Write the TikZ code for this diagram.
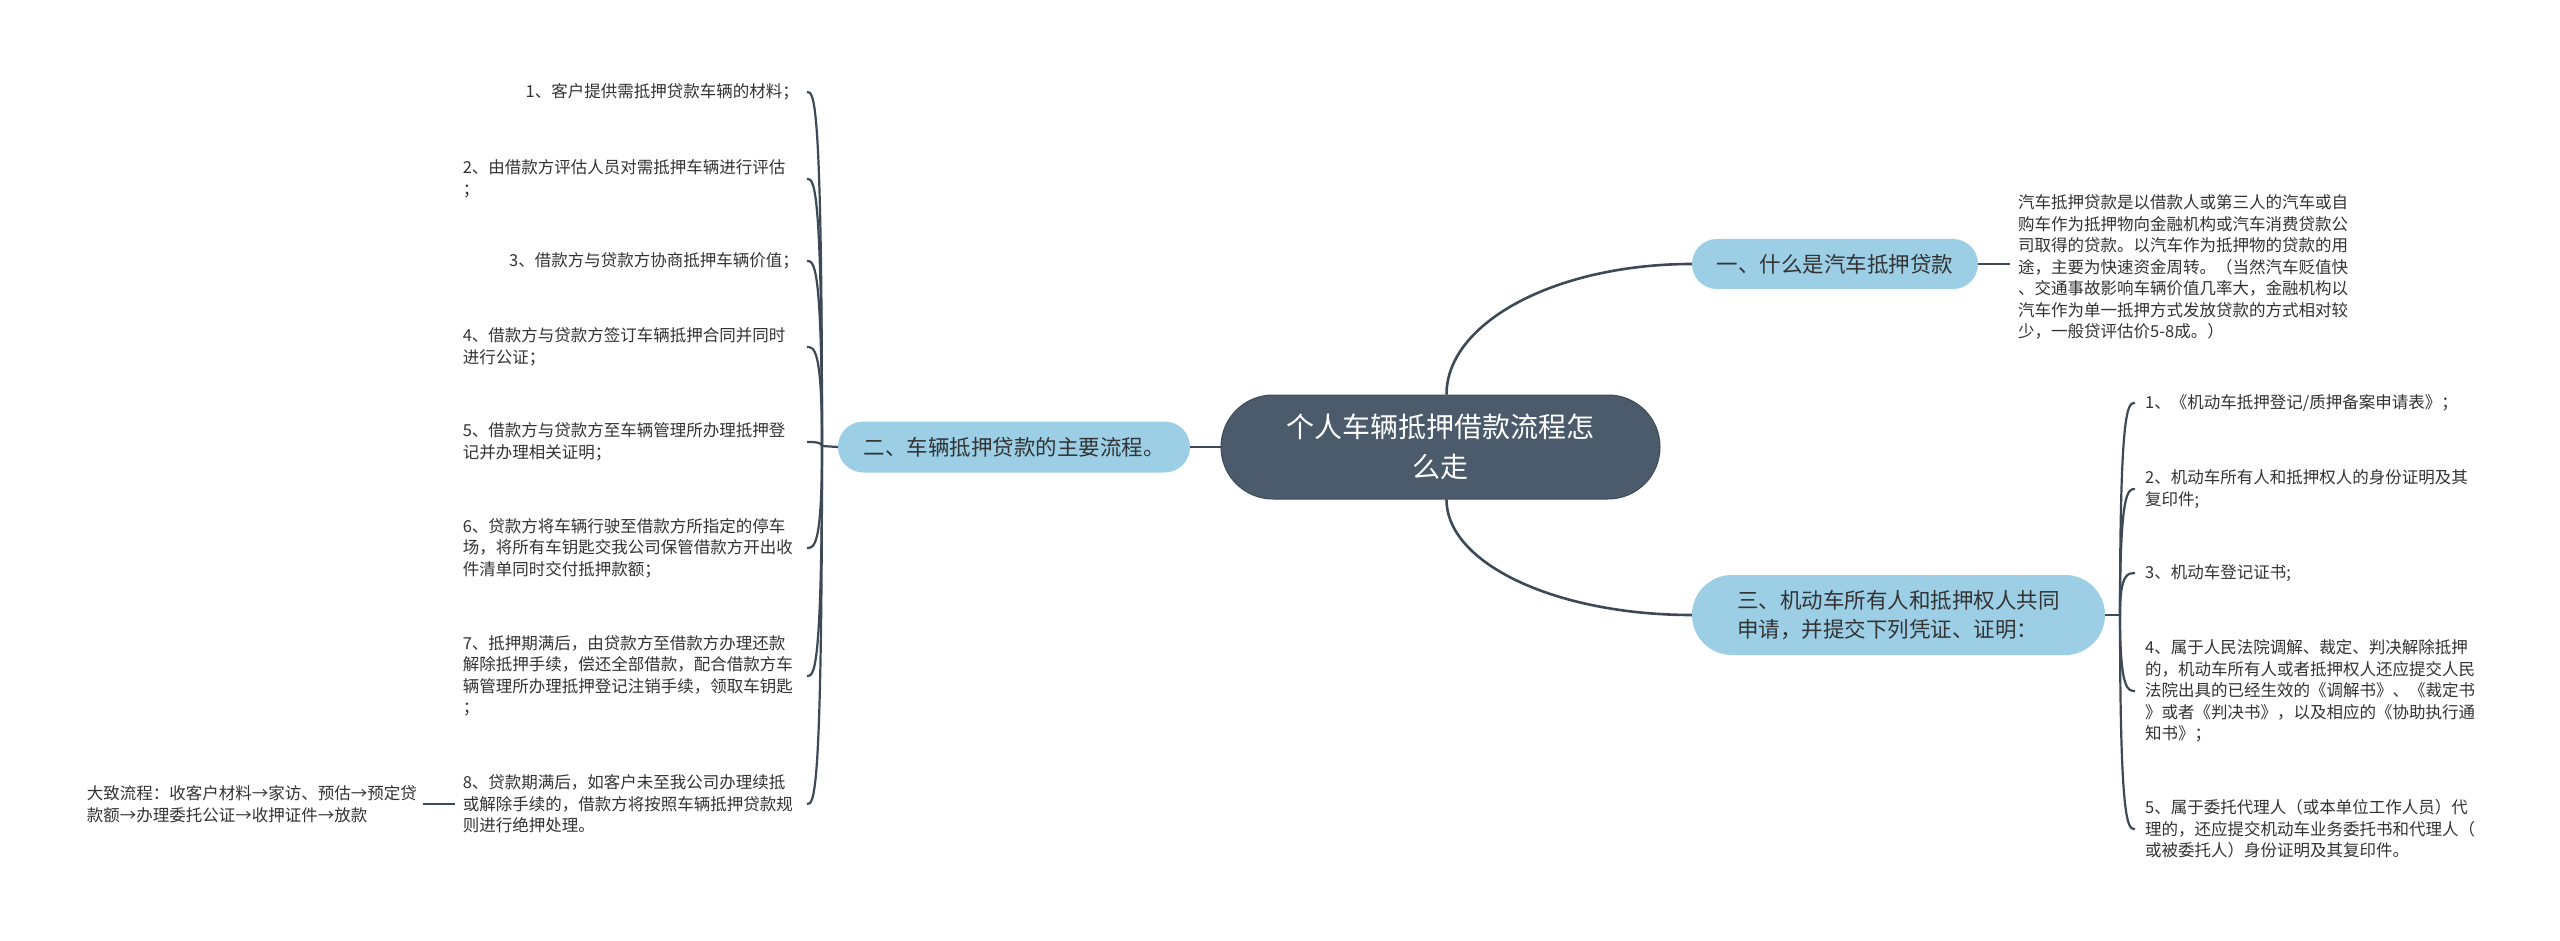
\documentclass[tikz,border=0pt]{standalone}
\usepackage{fontspec}
\setmainfont{Noto Sans CJK SC}
\usetikzlibrary{backgrounds}
\definecolor{rootfill}{HTML}{4B5B6B}
\definecolor{rootline}{HTML}{3E4C5A}
\definecolor{branchfill}{HTML}{9CCFE6}
\definecolor{linkcol}{HTML}{3C4A58}
\definecolor{txtcol}{HTML}{333333}
\newcommand\myleaffont{\fontsize{16.5}{21.5}\selectfont}
\newcommand\mybranchfont{\fontsize{21.5}{29}\selectfont}
\newcommand\myrootfont{\fontsize{28}{40}\selectfont}
\begin{document}
\begin{tikzpicture}[x=1pt,y=-1pt,
  rootbox/.style={fill=rootfill, draw=rootline, line width=1pt, text=white, font=\myrootfont, align=center, inner sep=0pt},
  branchbox/.style={fill=branchfill, text=txtcol, font=\mybranchfont, align=left, inner sep=0pt},
  leafL/.style={font=\myleaffont, text=txtcol, inner xsep=8pt, inner ysep=0pt, text width=336pt, anchor=east},
  leafR/.style={font=\myleaffont, text=txtcol, inner xsep=10pt, inner ysep=0pt, text width=345pt, align=left, anchor=west},
  mainlink/.style={draw=linkcol, line width=2.6pt},
  leaflink/.style={draw=linkcol, line width=2.2pt},
]
\useasboundingbox (0,0) rectangle (2560,941);

% root and branches
\node[rootbox, minimum width=439pt, minimum height=104pt, rounded corners=51.9pt] (root) at (1440.5,447) {个人车辆抵押借款流程怎\\么走};
\node[branchbox, minimum width=286pt, minimum height=50pt, rounded corners=24.9pt] (n1) at (1835,264) {一、什么是汽车抵押贷款};
\node[branchbox, minimum width=352pt, minimum height=51pt, rounded corners=25.4pt] (n2) at (1014,447) {二、车辆抵押贷款的主要流程。};
\node[branchbox, minimum width=413pt, minimum height=80pt, rounded corners=39.9pt] (n3) at (1898.5,615) {三、机动车所有人和抵押权人共同\\申请，并提交下列凭证、证明：};

% description of branch one
\node[leafR, text width=340pt, inner xsep=8pt] (d1) at (2010,267) {汽车抵押贷款是以借款人或第三人的汽车或自\\购车作为抵押物向金融机构或汽车消费贷款公\\司取得的贷款。以汽车作为抵押物的贷款的用\\途，主要为快速资金周转。（当然汽车贬值快\\、交通事故影响车辆价值几率大，金融机构以\\汽车作为单一抵押方式发放贷款的方式相对较\\少，一般贷评估价5-8成。）};

% left leaves
\node[leafL, align=right] (L1) at (807,92) {1、客户提供需抵押贷款车辆的材料；};
\node[leafL, align=left] (L2) at (807,179) {2、由借款方评估人员对需抵押车辆进行评估\\；};
\node[leafL, align=right] (L3) at (807,261) {3、借款方与贷款方协商抵押车辆价值；};
\node[leafL, align=left] (L4) at (807,347) {4、借款方与贷款方签订车辆抵押合同并同时\\进行公证；};
\node[leafL, align=left] (L5) at (807,442) {5、借款方与贷款方至车辆管理所办理抵押登\\记并办理相关证明；};
\node[leafL, align=left] (L6) at (807,548) {6、贷款方将车辆行驶至借款方所指定的停车\\场，将所有车钥匙交我公司保管借款方开出收\\件清单同时交付抵押款额；};
\node[leafL, align=left] (L7) at (807,676) {7、抵押期满后，由贷款方至借款方办理还款\\解除抵押手续，偿还全部借款，配合借款方车\\辆管理所办理抵押登记注销手续，领取车钥匙\\；};
\node[leafL, align=left] (L8) at (807,804) {8、贷款期满后，如客户未至我公司办理续抵\\或解除手续的，借款方将按照车辆抵押贷款规\\则进行绝押处理。};
\node[font=\myleaffont, text=txtcol, align=left, inner xsep=6pt, inner ysep=0pt, anchor=east] (L0) at (423,804) {大致流程：收客户材料→家访、预估→预定贷\\款额→办理委托公证→收押证件→放款};

% right leaves
\node[leafR] (R1) at (2135,403) {1、《机动车抵押登记/质押备案申请表》；};
\node[leafR] (R2) at (2135,489) {2、机动车所有人和抵押权人的身份证明及其\\复印件;};
\node[leafR] (R3) at (2135,573) {3、机动车登记证书;};
\node[leafR] (R4) at (2135,691) {4、属于人民法院调解、裁定、判决解除抵押\\的，机动车所有人或者抵押权人还应提交人民\\法院出具的已经生效的《调解书》、《裁定书\\》或者《判决书》，以及相应的《协助执行通\\知书》；};
\node[leafR] (R5) at (2135,829) {5、属于委托代理人（或本单位工作人员）代\\理的，还应提交机动车业务委托书和代理人（\\或被委托人）身份证明及其复印件。};

\coordinate (lj) at (822,446);
\coordinate (rj) at (2120,615);

\begin{scope}[on background layer]
\fill[white] (0,0) rectangle (2560,941);
\draw[mainlink] (root.west) -- (n2.east);
\draw[mainlink] ([xshift=6pt]root.north) .. controls ([xshift=6pt,yshift=72pt]root.north) and ([xshift=-136pt]n1.west) .. (n1.west);
\draw[mainlink] ([xshift=6pt]root.south) .. controls ([xshift=6pt,yshift=-64pt]root.south) and ([xshift=-136pt]n3.west) .. (n3.west);
\draw[leaflink] (n1.east) -- (n1.east -| d1.west);
\draw[leaflink] (n2.west) -- (lj);
\foreach \k in {1,...,8} {
  \draw[leaflink] (lj) .. controls (lj |- L\k.east) and ([xshift=7pt]L\k.east) .. (L\k.east);
}
\draw[leaflink] (L0.east) -- (L0.east -| L8.west);
\draw[leaflink] (n3.east) -- (rj);
\foreach \k in {1,...,5} {
  \draw[leaflink] (rj) .. controls (rj |- R\k.west) and ([xshift=-7pt]R\k.west) .. (R\k.west);
}
\end{scope}
\end{tikzpicture}
\end{document}
